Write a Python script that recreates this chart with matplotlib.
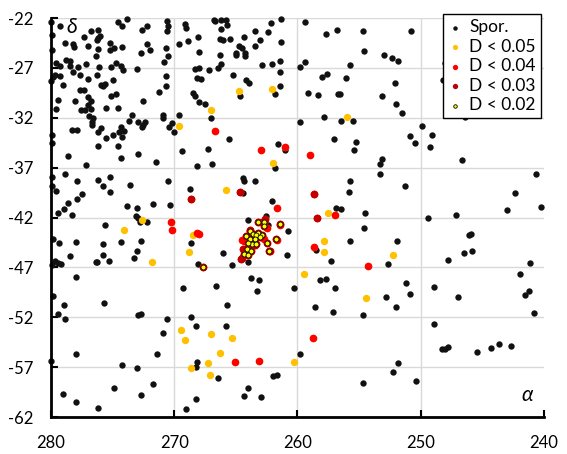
import matplotlib
matplotlib.use("Agg")
import matplotlib.pyplot as plt

plt.rcParams['font.family'] = ['Lato', 'DejaVu Sans']
plt.rcParams['axes.unicode_minus'] = False

# sporadic meteors (alpha, delta)
spor = [
    (280.0, -22.4), (279.3, -22.8), (279.95, -23.67), (279.95, -25.2), (274.59, -22.37), (274.27, -22.77),
    (273.81, -22.1), (272.59, -23.2), (272.24, -22.77), (270.57, -22.3), (270.49, -22.83), (270.57, -23.27),
    (269.14, -22.6), (269.05, -23.0), (276.78, -23.3), (276.22, -23.2), (276.0, -23.83), (276.16, -24.03),
    (276.3, -24.17), (277.32, -23.93), (278.86, -24.5), (278.24, -24.6), (278.16, -24.93), (276.97, -24.83),
    (276.16, -25.1), (275.19, -24.5), (275.22, -25.2), (274.86, -25.0), (274.22, -24.93), (272.19, -24.6),
    (272.0, -25.2), (272.68, -25.5), (270.65, -25.0), (270.54, -25.83), (270.86, -26.4), (269.59, -24.6),
    (268.92, -24.3), (268.11, -23.93), (268.03, -25.37), (276.35, -25.8), (279.57, -26.5), (279.24, -26.83),
    (278.81, -26.2), (278.43, -26.27), (278.43, -26.77), (277.78, -26.93), (277.16, -26.6), (276.14, -26.93),
    (275.11, -26.93), (274.7, -26.5), (274.32, -26.77), (274.14, -27.17), (273.0, -27.1), (268.35, -27.1),
    (267.97, -27.0), (267.19, -27.2), (279.68, -27.7), (279.84, -27.87), (279.24, -27.77), (278.22, -27.43),
    (277.62, -27.67), (276.97, -28.1), (276.24, -27.7), (279.97, -28.3), (279.0, -28.7), (277.62, -29.17),
    (277.35, -29.17), (278.03, -30.33), (277.0, -29.9), (276.78, -30.3), (277.03, -30.7), (276.78, -31.17),
    (277.54, -31.2), (277.24, -31.2), (275.95, -28.67), (275.78, -28.77), (275.62, -28.6), (274.95, -28.2),
    (275.11, -29.83), (274.7, -29.63), (275.57, -31.0), (274.54, -31.0), (272.57, -30.33), (271.27, -29.4),
    (270.65, -27.77), (270.68, -28.77), (268.46, -29.5), (268.3, -29.8), (267.97, -30.4), (267.51, -30.6),
    (268.14, -28.0), (267.86, -28.1), (279.41, -30.27), (279.57, -31.1), (276.89, -31.87), (276.62, -32.03),
    (273.41, -31.7), (273.65, -32.33), (272.92, -32.43), (272.38, -32.47), (272.57, -32.7), (272.65, -32.97),
    (270.92, -31.7), (270.92, -32.0), (269.59, -31.7), (267.05, -32.0), (270.22, -32.5), (270.41, -32.93),
    (270.05, -33.43), (276.68, -32.43), (276.68, -32.77), (275.92, -33.0), (276.16, -33.43), (278.3, -33.2),
    (277.92, -33.2), (279.95, -33.7), (279.89, -34.5), (274.35, -32.93), (274.49, -33.43), (274.11, -33.37),
    (274.22, -33.93), (275.0, -33.77), (275.57, -34.0), (276.16, -34.8), (274.59, -34.8), (272.97, -35.6),
    (274.3, -36.0), (269.38, -35.33), (267.24, -35.1), (266.92, -36.6), (268.16, -36.83), (271.46, -36.47),
    (277.19, -36.7), (278.59, -35.8), (279.95, -37.93), (278.84, -37.6), (279.89, -38.87), (279.57, -39.37),
    (277.86, -38.3), (276.16, -38.2), (275.24, -37.93), (275.76, -38.83), (275.24, -39.43), (273.59, -38.7),
    (270.49, -38.3), (268.73, -39.1), (273.81, -40.83), (273.0, -41.0), (271.7, -40.63), (270.32, -40.7),
    (278.59, -40.5), (277.86, -40.17), (278.92, -41.1), (279.41, -41.57), (278.27, -41.7), (277.51, -39.6),
    (273.14, -41.87), (272.92, -42.1), (272.78, -42.43),
    (266.76, -22.23), (266.68, -22.33), (266.22, -22.2), (265.78, -22.17), (265.68, -22.7), (266.24, -23.1),
    (262.11, -22.5), (261.3, -22.1), (259.43, -22.37), (263.46, -23.3), (262.43, -23.4), (264.38, -23.93),
    (263.08, -24.2), (261.3, -24.4), (266.32, -24.1), (266.05, -24.23), (265.51, -24.1), (264.78, -24.8),
    (264.51, -25.0), (265.03, -25.5), (265.03, -25.7), (264.3, -25.5), (264.3, -25.83), (263.41, -24.8),
    (266.27, -25.7), (266.22, -26.6), (266.49, -27.0), (262.92, -26.7), (262.03, -26.6), (261.46, -26.3),
    (259.78, -26.9), (259.43, -26.4), (257.65, -23.6), (256.76, -23.2), (254.65, -23.3), (254.57, -25.3),
    (255.78, -26.7), (252.97, -25.7), (265.27, -27.7), (264.16, -28.17), (263.95, -28.5), (261.46, -27.4),
    (261.38, -28.8), (261.86, -29.63), (264.7, -29.8), (258.05, -27.9), (257.57, -27.6), (256.03, -28.0),
    (259.11, -29.5), (258.3, -29.7), (256.68, -29.6), (256.55, -29.6), (253.11, -29.8), (265.59, -34.1),
    (261.62, -34.6), (261.05, -35.23), (261.86, -37.0), (257.89, -31.9), (259.78, -32.4), (256.51, -32.3),
    (255.46, -32.3), (257.0, -34.1), (255.22, -34.4), (255.38, -35.2), (253.16, -36.1), (253.27, -36.6),
    (253.27, -37.6), (264.46, -38.0), (264.38, -38.3), (263.41, -38.3), (264.46, -39.5), (262.03, -40.3),
    (262.59, -41.8), (264.05, -42.25), (255.7, -38.3), (255.86, -39.4), (256.84, -41.0), (256.51, -41.1),
    (254.49, -41.5),
    (250.76, -23.3), (252.3, -26.0), (251.81, -26.3), (248.0, -26.5), (248.16, -28.2), (252.05, -28.5),
    (251.97, -30.6), (251.49, -31.5), (246.41, -31.9), (249.92, -32.8), (250.84, -33.8), (250.43, -34.5),
    (249.05, -33.7), (249.22, -34.9), (246.62, -36.2), (251.24, -38.8), (240.62, -37.6), (242.32, -39.5),
    (242.97, -41.2), (240.22, -40.9), (247.11, -41.7), (249.38, -42.0),
    (272.19, -42.5), (275.59, -42.8), (279.84, -44.2), (279.32, -44.6), (277.95, -44.5), (275.76, -44.7),
    (274.3, -44.5), (272.68, -44.4), (273.0, -45.4), (273.24, -46.1), (275.76, -45.8), (278.43, -45.9),
    (276.24, -46.43), (276.38, -46.5), (275.27, -46.4), (279.65, -46.4), (279.41, -46.6), (279.16, -46.7),
    (279.95, -46.8), (268.62, -44.6), (268.05, -46.7), (277.95, -48.0), (269.27, -49.1), (266.59, -48.9),
    (279.81, -49.9), (278.92, -50.8), (275.68, -50.6), (279.41, -51.7), (278.84, -52.2), (272.95, -51.8),
    (272.73, -51.7), (270.57, -52.2), (268.65, -52.0), (268.22, -52.9), (270.92, -53.6), (277.95, -55.7),
    (279.97, -56.4), (271.38, -55.7), (274.22, -56.8), (273.0, -57.1), (268.14, -56.5), (268.27, -57.0),
    (266.46, -58.1), (274.86, -59.1), (271.7, -58.7), (279.0, -59.7), (272.68, -59.8), (277.95, -60.5),
    (276.16, -61.1), (268.22, -60.2), (269.03, -61.2),
    (260.81, -43.4), (266.08, -45.6), (265.35, -46.8), (264.05, -46.5), (260.89, -45.8), (263.81, -48.1),
    (263.16, -48.3), (263.32, -49.4), (260.32, -49.1), (265.76, -50.8), (265.84, -52.9), (259.76, -55.7),
    (261.95, -57.9), (261.68, -57.8), (264.05, -59.1), (264.38, -59.9), (263.0, -60.0), (254.57, -43.1),
    (255.78, -44.4), (258.46, -45.3), (257.32, -46.4), (258.14, -48.3), (257.65, -48.2), (256.92, -49.1),
    (258.62, -51.0), (257.16, -51.5), (254.65, -51.8), (254.65, -58.6), (262.41, -42.8),
    (251.92, -44.4), (252.62, -46.7), (246.08, -43.8), (245.89, -43.7), (246.46, -45.6), (245.81, -45.4),
    (247.76, -46.3), (241.11, -46.6), (241.95, -47.7), (251.16, -48.6), (250.84, -49.7), (252.86, -50.0),
    (251.97, -51.0), (248.89, -49.0), (246.95, -50.0), (241.51, -49.8), (241.19, -49.4), (240.78, -51.6),
    (248.89, -52.7), (248.24, -55.2), (248.0, -55.2), (247.76, -55.03), (245.41, -55.5), (244.27, -55.1),
    (243.62, -54.7), (242.65, -54.9), (251.81, -56.6), (252.22, -57.5), (250.35, -58.4),
]

d05 = [
    (267.03, -31.2), (269.59, -32.8), (272.59, -42.25), (264.78, -29.3), (262.03, -29.1), (261.95, -36.5),
    (265.84, -39.2), (257.49, -41.5), (255.95, -31.9), (274.05, -43.3), (268.46, -43.8), (268.78, -45.5),
    (271.78, -46.5), (269.43, -53.3), (269.11, -54.3), (267.0, -53.7), (266.3, -55.6), (267.24, -56.6),
    (268.62, -57.1), (267.08, -57.8), (257.81, -44.4), (257.81, -45.5), (259.51, -47.7), (254.41, -50.1),
    (265.35, -54.1), (260.32, -56.5), (252.22, -45.8),
]

d04 = [
    (266.68, -33.3), (263.0, -35.2), (261.05, -34.9), (258.95, -35.7), (261.7, -41.0), (256.92, -41.7),
    (270.24, -42.5), (270.16, -43.3), (268.19, -43.6), (267.97, -43.7), (258.7, -45.0), (254.32, -46.9),
    (265.11, -56.5), (263.16, -56.4), (258.78, -54.1), (264.35, -44.4), (262.7, -44.17), (261.41, -42.77),
    (261.68, -44.27), (264.5, -44.3), (262.5, -43.1),
]

d03 = [
    (268.62, -40.1), (264.7, -39.4), (258.7, -39.6), (258.38, -42.0), (264.51, -46.1), (264.46, -45.2),
    (262.76, -42.43), (262.27, -45.37), (263.43, -44.77), (263.84, -43.27), (264.6, -46.2), (262.6, -42.2),
]

d02 = [
    (263.17, -42.45), (262.74, -42.45), (262.74, -42.88), (263.82, -43.35), (263.23, -43.52), (263.6, -43.69),
    (264.14, -43.89), (263.82, -44.12), (263.39, -43.79), (262.9, -43.72), (263.01, -43.99), (263.44, -44.19),
    (263.66, -44.62), (263.39, -44.62), (263.98, -44.56), (262.49, -44.53), (261.71, -44.19), (261.44, -42.69),
    (262.28, -45.39), (264.09, -45.19), (263.77, -45.39), (264.36, -45.69), (263.98, -45.79), (267.7, -46.93),
]

# stricter D thresholds are subsets of the looser ones
set05 = d05 + d04 + d03 + d02
set04 = d04 + d03 + d02
set03 = d03 + d02


def xs(pts):
    return [p[0] for p in pts]


def ys(pts):
    return [p[1] for p in pts]


fig = plt.figure(figsize=(5.67, 4.54), dpi=100)
ax = fig.add_axes([51 / 567, 1 - 417 / 454, 493 / 567, 399 / 454])

h_spor = ax.scatter(xs(spor), ys(spor), s=21, color='#111111', lw=0, zorder=3, clip_on=False, label='Spor.')
h05 = ax.scatter(xs(set05), ys(set05), s=28, color='#FFC000', lw=0, zorder=4, clip_on=False, label='D < 0.05')
h04 = ax.scatter(xs(set04), ys(set04), s=30, color='#FF0000', lw=0, zorder=5, clip_on=False, label='D < 0.04')
h03 = ax.scatter(xs(set03), ys(set03), s=30, color='#C00000', lw=0, zorder=6, clip_on=False, label='D < 0.03')
h02 = ax.scatter(xs(d02), ys(d02), s=13, color='#FFFF00', edgecolors='black', lw=0.6, zorder=7,
                 clip_on=False, label='D < 0.02')

ax.set_xlim(280, 240)
ax.set_ylim(-62, -22)
ax.set_xticks([280, 270, 260, 250, 240])
ax.set_yticks(list(range(-62, -21, 5)))

ax.grid(True, color='#d9d9d9', lw=1, zorder=0)
ax.set_axisbelow(True)
gl = ax.xaxis.get_gridlines()
gl[0].set_visible(False)
gl[-1].set_visible(False)

for side in ['top', 'right']:
    ax.spines[side].set_visible(False)
for side in ['left', 'bottom']:
    ax.spines[side].set_linewidth(2)
    ax.spines[side].set_color('black')
    ax.spines[side].set_zorder(8)

ax.tick_params(direction='in', length=5, width=1.5, color='black', pad=13, labelsize=12)

ax.text(278.3, -22.95, 'δ', fontsize=15, style='italic', ha='center', va='center', zorder=9)
ax.text(241.4, -59.8, 'α', fontsize=15, style='italic', ha='center', va='center', zorder=9)

leg = ax.legend(handles=[h_spor, h05, h04, h03, h02], loc='upper right', bbox_to_anchor=(0.994, 1.01),
                fontsize=12.5, frameon=True, fancybox=False, framealpha=1, edgecolor='black',
                borderpad=0.3, labelspacing=0.2, handlelength=0.7, handletextpad=0.5,
                borderaxespad=0, markerscale=0.7)
leg.get_frame().set_linewidth(1.0)
leg.set_zorder(10)

fig.savefig("out.png", dpi=100)
